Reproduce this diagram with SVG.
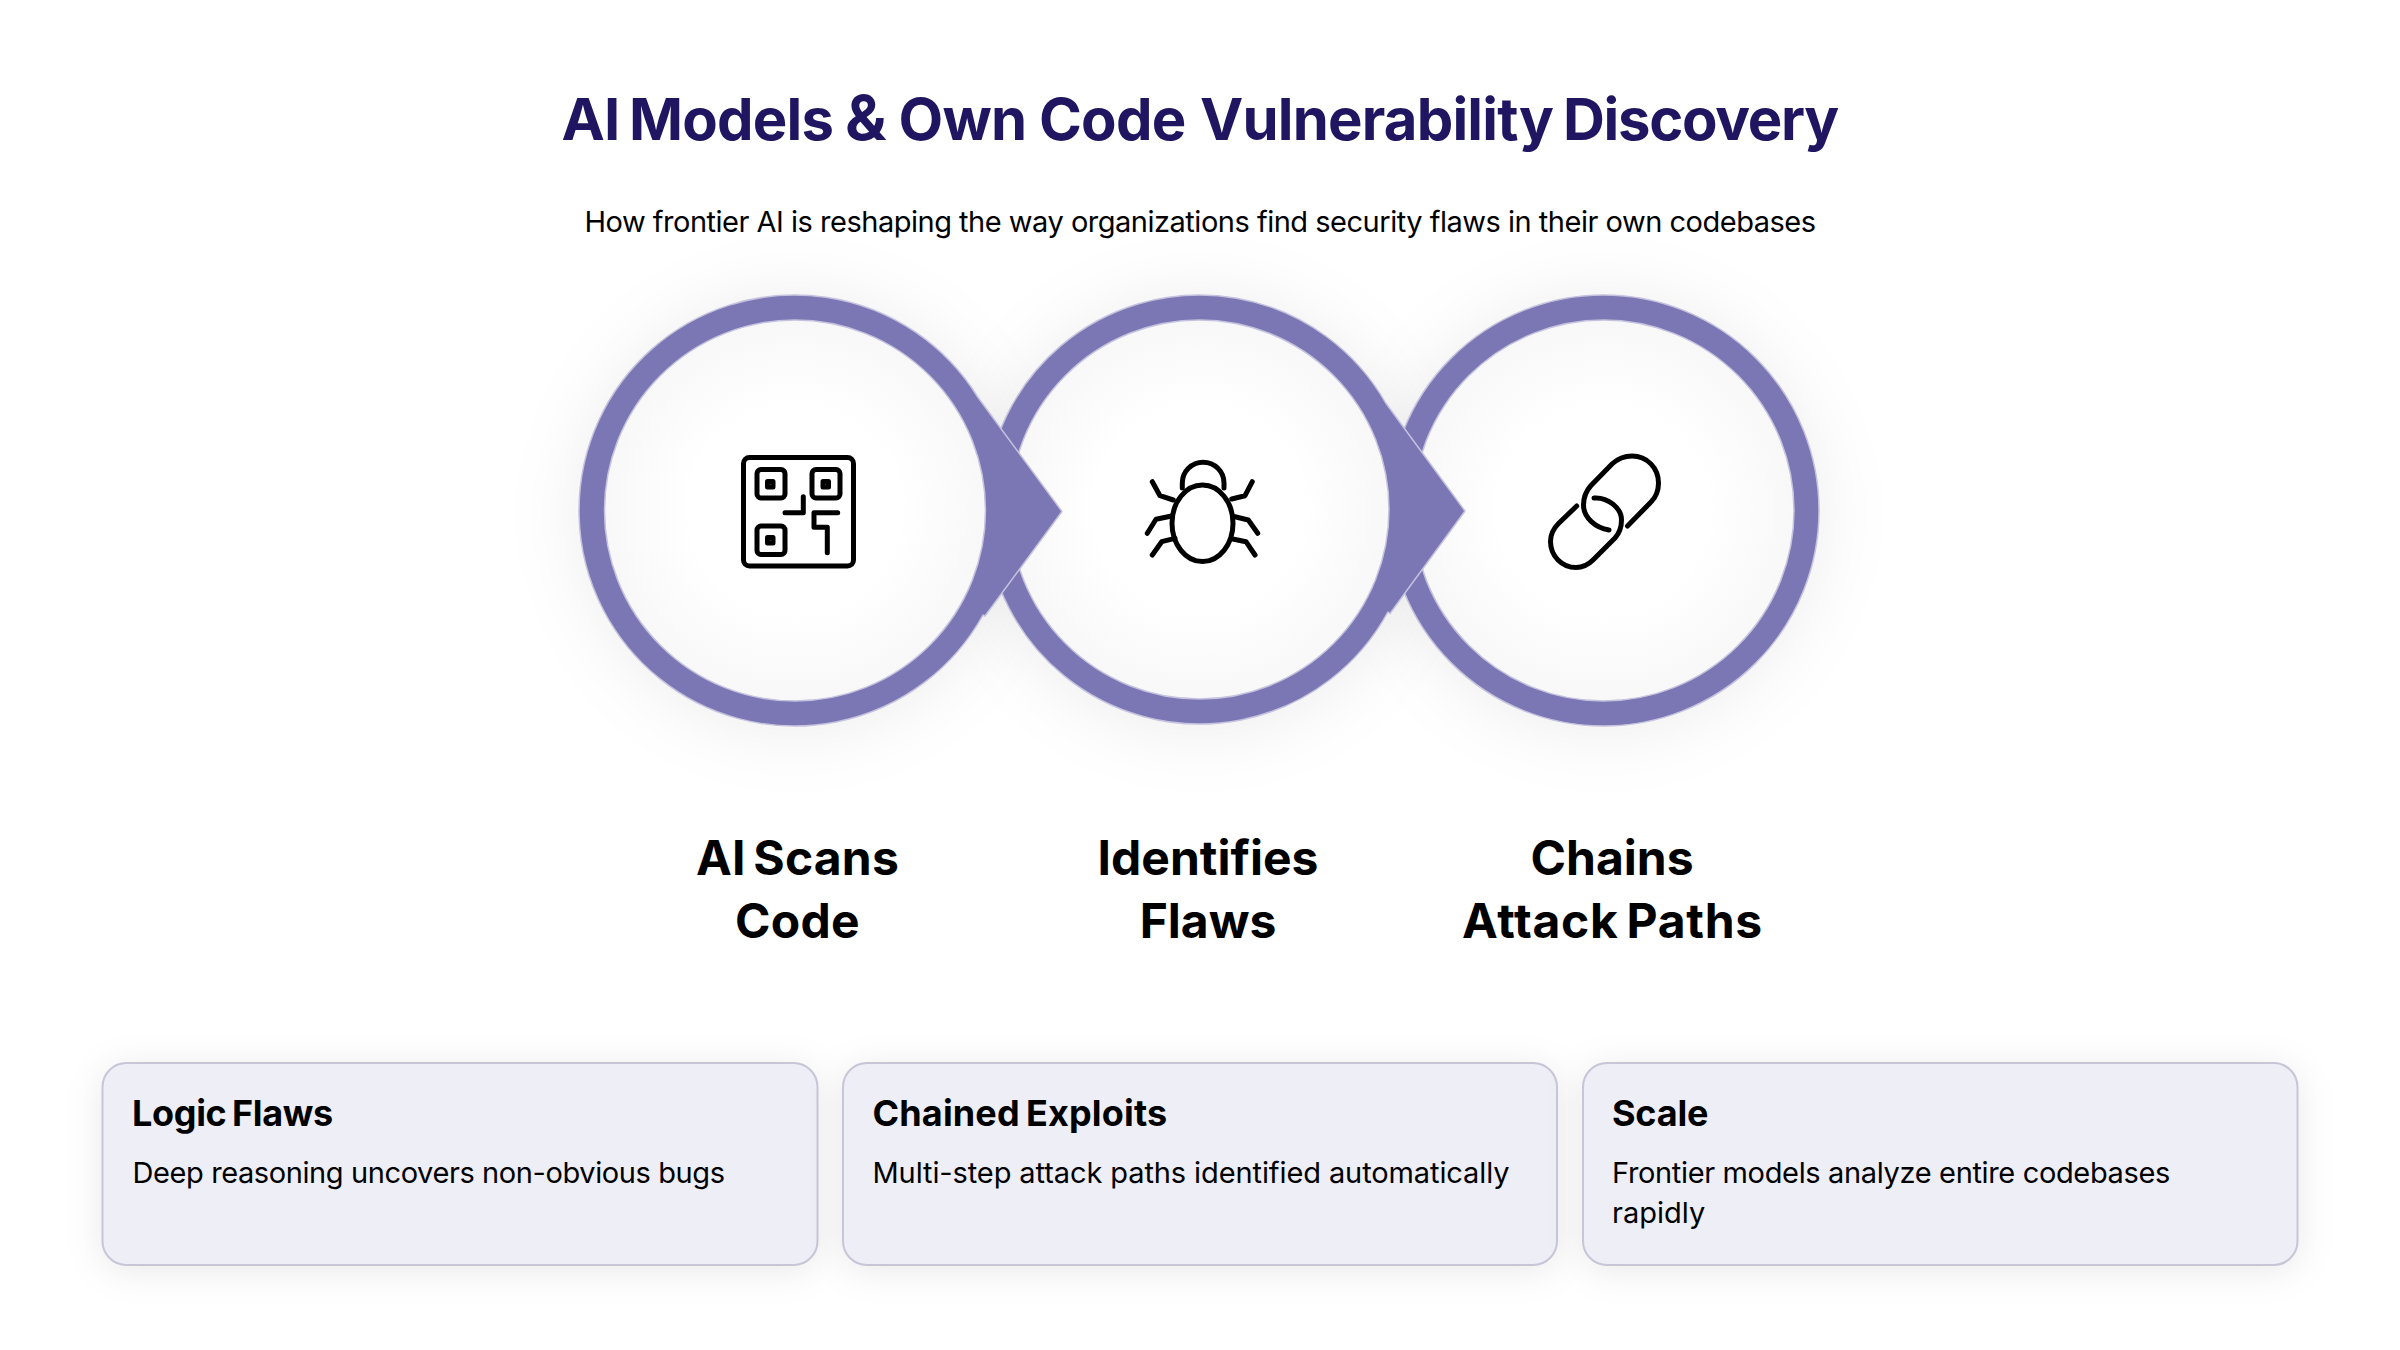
<svg xmlns="http://www.w3.org/2000/svg" width="2400" height="1350" viewBox="0 0 2400 1350">
<style>
text{font-family:"Inter","Liberation Sans",sans-serif;fill:#000}
.title{font-size:58px;font-weight:700;fill:#1f1560;letter-spacing:-.8px}
.sub{font-size:29px;font-weight:400;text-anchor:middle;letter-spacing:-.49px}
.label{font-size:48px;font-weight:700;text-anchor:middle;word-spacing:-4px}
.ct{font-size:36px;font-weight:700;word-spacing:-2.5px}
.cb{font-size:29px;font-weight:400}
.ring{fill:#7b76b4;stroke:#c4c2de;stroke-width:1.5;stroke-linejoin:round}
.face{fill:url(#face);stroke:#c4c2de;stroke-width:1.5}
.halo{fill:#000;fill-opacity:.075;filter:url(#soft)}
.card{fill:#eeeef7;stroke:#c7c5d6;stroke-width:2}
.cardshadow{fill:#000;fill-opacity:.09;filter:url(#softc)}
.icon{fill:none;stroke:#000;stroke-width:5;stroke-linecap:round;stroke-linejoin:round}
</style>
<defs>
<radialGradient id="face"><stop offset=".55" stop-color="#fff"/><stop offset="1" stop-color="#f8f8f9"/></radialGradient>
<filter id="soft" x="-40%" y="-40%" width="180%" height="180%"><feGaussianBlur stdDeviation="36"/></filter>
<filter id="softc" x="-15%" y="-50%" width="130%" height="200%"><feGaussianBlur stdDeviation="18"/></filter>
</defs>
<rect width="2400" height="1350" fill="#fff"/>
<text class="title" y="139.5"><tspan x="561.5">AI </tspan><tspan x="629">Models </tspan><tspan x="845" font-size="62">&amp; </tspan><tspan x="898.5">Own </tspan><tspan x="1039">Code </tspan><tspan x="1200">Vulnerability </tspan><tspan x="1563" letter-spacing="-1.3">Discovery</tspan></text>
<text class="sub" x="1200" y="232">How frontier AI is reshaping the way organizations find security flaws in their own codebases</text>

<g id="halos">
<circle class="halo" cx="795" cy="514" r="215"/>
<circle class="halo" cx="1200" cy="514" r="215"/>
<circle class="halo" cx="1603" cy="514" r="215"/>
</g>
<g id="node-chains">
<circle class="ring" cx="1603.5" cy="510.5" r="215.5"/>
<circle class="face" cx="1603.5" cy="510.5" r="190.5"/>
<g class="icon">
<path d="M1609 530C1596 528 1583.5 518 1583.5 505C1583.5 497 1586 491 1591 485.5L1612 464C1618 458.5 1625 456 1632 456C1647 456 1658.5 468 1658.5 483C1658.5 490 1656 497 1651 502L1627.5 526"/>
<path d="M1576.7 506L1558.5 523.5C1553 529 1550.5 535 1550.5 541.5C1550.5 556 1562 567.5 1576 567.5C1582.5 567.5 1588 565 1593 560L1615 538C1619.5 533 1621.5 527 1621.5 520C1621.5 508 1608 497 1594 498"/>
</g>
</g>
<g id="node-flaws">
<path class="ring" d="M1385.7 403A214.5 214.5 0 1 0 1387.9 612L1390 613.5L1465 511Z"/>
<circle class="face" cx="1199.5" cy="509.5" r="189.5"/>
<g class="icon">
<path d="M1182.3 488V483A20.8 20.8 0 0 1 1224 483V488"/>
<ellipse cx="1202.5" cy="523.3" rx="30.5" ry="38.3"/>
<path d="M1152.3 481.7L1160 495.7L1173.3 500M1252.3 481.7L1245 495.7L1231.7 499M1147.3 533.3L1156 519.3L1171.7 516M1257.7 533.3L1248.3 520L1235 516.7M1152.3 555L1161.7 541.7L1175 538.3M1255 555L1246 541.7L1232.7 539"/>
</g>
</g>
<g id="node-scan">
<path class="ring" d="M977.7 397A215.5 215.5 0 1 0 983 615L985 616L1062 511.5Z"/>
<circle class="face" cx="795" cy="510.5" r="190.5"/>
<g class="icon">
<rect x="743.5" y="457.5" width="110" height="108.5" rx="6"/>
<rect x="757" y="469.5" width="28" height="28.5" rx="4"/>
<rect x="812" y="469.5" width="28" height="28.5" rx="4"/>
<rect x="757" y="526" width="28" height="28.5" rx="4"/>
<rect x="767.5" y="481.5" width="5.5" height="5.5"/>
<rect x="823" y="481.5" width="5.5" height="5.5"/>
<rect x="767.5" y="537.5" width="5.5" height="5.5"/>
<path d="M803.3 496.7V512.7H785M837.7 512.7H814V527.3H827.3V552.7"/>
</g>
</g>
<g id="labels">
<text class="label" x="797.5" y="875" letter-spacing=".2">AI Scans</text>
<text class="label" x="797.5" y="938" letter-spacing=".3">Code</text>
<text class="label" x="1208" y="875">Identifies</text>
<text class="label" x="1208" y="938">Flaws</text>
<text class="label" x="1612" y="875">Chains</text>
<text class="label" x="1612.5" y="938" letter-spacing=".7" word-spacing="-2">Attack Paths</text>
</g>
<g id="card-logic">
<rect class="cardshadow" x="102.5" y="1068" width="715" height="202" rx="24"/>
<rect class="card" x="102.5" y="1063" width="715" height="202" rx="24"/>
<text class="ct" x="132" y="1126" letter-spacing="-.35">Logic Flaws</text>
<text class="cb" x="132.5" y="1182.5" letter-spacing="-.4">Deep reasoning uncovers non-obvious bugs</text>
</g>
<g id="card-chained">
<rect class="cardshadow" x="843" y="1068" width="714" height="202" rx="24"/>
<rect class="card" x="843" y="1063" width="714" height="202" rx="24"/>
<text class="ct" x="872.5" y="1126" letter-spacing=".15">Chained Exploits</text>
<text class="cb" x="872.5" y="1182.5" letter-spacing="-.1">Multi-step attack paths identified automatically</text>
</g>
<g id="card-scale">
<rect class="cardshadow" x="1583" y="1068" width="714.5" height="202" rx="24"/>
<rect class="card" x="1583" y="1063" width="714.5" height="202" rx="24"/>
<text class="ct" x="1612" y="1126" letter-spacing="-.2">Scale</text>
<text class="cb" x="1612" y="1182.5" letter-spacing="-.35">Frontier models analyze entire codebases</text>
<text class="cb" x="1612" y="1222.5">rapidly</text>
</g>
<g id="connectors"/>
</svg>
